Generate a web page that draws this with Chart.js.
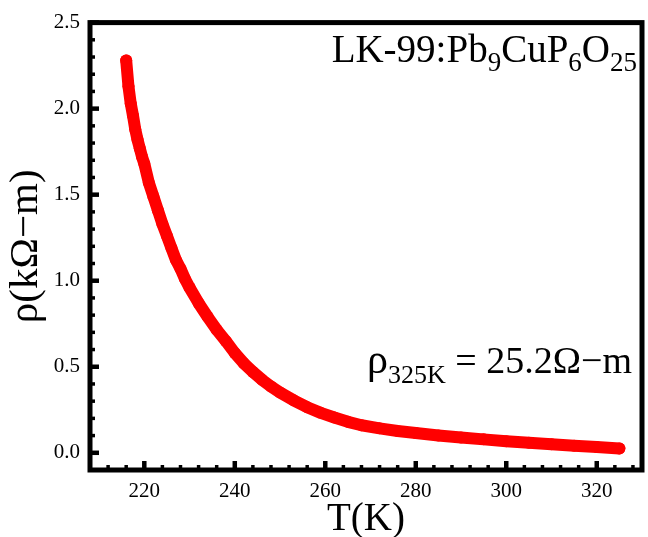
<!DOCTYPE html>
<html>
<head>
<meta charset="utf-8">
<script src="https://cdn.jsdelivr.net/npm/chart.js@4/dist/chart.umd.min.js"></script>
<style>
  html, body { margin: 0; padding: 0; background: #fff; }
</style>
</head>
<body>
<canvas id="myChart" width="648" height="537"></canvas>
<script>
// temperature (K) and resistivity (kOhm-m)
var temps = [216, 216.5, 217, 217.5, 218, 218.5, 219, 219.5, 220, 221, 222, 223, 224, 225, 226, 227, 228, 229, 230,
             232, 234, 236, 238, 240, 242, 244, 246, 248, 250, 253, 256, 259, 262, 265, 268, 272, 276, 280,
             285, 290, 295, 300, 305, 310, 315, 320, 325];
var rho = [2.28, 2.13, 2.03, 1.96, 1.88, 1.82, 1.77, 1.72, 1.68, 1.57, 1.49, 1.41, 1.33, 1.26, 1.19, 1.12, 1.07, 1.01, 0.96,
           0.87, 0.79, 0.715, 0.65, 0.58, 0.52, 0.47, 0.425, 0.385, 0.35, 0.305, 0.265, 0.232, 0.205, 0.18, 0.16, 0.142, 0.127, 0.115,
           0.101, 0.089, 0.078, 0.067, 0.058, 0.049, 0.041, 0.034, 0.0252];

var xRange = [208, 330];
var yRange = [-0.1, 2.5];
var xStep = 20, xMinorStep = 4;
var yStep = 0.5, yMinorStep = 0.1;

var serif = "'Liberation Serif', 'Times New Roman', serif";

// draws a run of text pieces (with sub-scripts) ending at x = right
function drawParts(ctx, parts, right, baseline) {
    var total = 0;
    parts.forEach(function (p) {
        ctx.font = p.font;
        p.w = ctx.measureText(p.text).width;
        total += p.w;
    });
    var x = right - total;
    parts.forEach(function (p) {
        ctx.font = p.font;
        ctx.fillText(p.text, x, baseline + (p.dy || 0));
        x += p.w;
    });
}

var framePlugin = {
    id: 'frame',
    afterDraw: function (chart) {
        var ctx = chart.ctx, a = chart.chartArea;
        var xs = chart.scales.x, ys = chart.scales.y;
        ctx.save();
        ctx.strokeStyle = '#000';
        ctx.fillStyle = '#000';

        // inward ticks on left and bottom
        ctx.lineCap = 'butt';
        for (var i = Math.ceil(xRange[0] / xMinorStep); i * xMinorStep <= xRange[1]; i++) {
            var v = i * xMinorStep;
            var major = v % xStep === 0;
            var px = xs.getPixelForValue(v);
            ctx.lineWidth = major ? 4.5 : 3.5;
            ctx.beginPath();
            ctx.moveTo(px, a.bottom);
            ctx.lineTo(px, a.bottom - (major ? 9 : 5));
            ctx.stroke();
        }
        for (var j = Math.round(yRange[0] / yMinorStep); j * yMinorStep <= yRange[1] + 1e-9; j++) {
            var major2 = j % 5 === 0;
            var py = ys.getPixelForValue(j * yMinorStep);
            ctx.lineWidth = major2 ? 4.5 : 3.5;
            ctx.beginPath();
            ctx.moveTo(a.left, py);
            ctx.lineTo(a.left + (major2 ? 9 : 5), py);
            ctx.stroke();
        }

        // box
        ctx.lineWidth = 5;
        ctx.lineJoin = 'miter';
        ctx.strokeRect(a.left, a.top, a.right - a.left, a.bottom - a.top);

        // annotations
        ctx.textBaseline = 'alphabetic';
        var big = '39px ' + serif, small = '27px ' + serif;
        drawParts(ctx, [
            { text: 'LK-99:Pb', font: big },
            { text: '9', font: small, dy: 9 },
            { text: 'CuP', font: big },
            { text: '6', font: small, dy: 9 },
            { text: 'O', font: big },
            { text: '25', font: small, dy: 9 }
        ], 637, 62);
        drawParts(ctx, [
            { text: '\u03C1', font: '42px ' + serif },
            { text: '325K', font: '26px ' + serif, dy: 10 },
            { text: ' = 25.2\u03A9\u2212m', font: '38px ' + serif }
        ], 632, 373);
        ctx.restore();
    }
};

var ctx = document.getElementById('myChart').getContext('2d');
var chart = new Chart(ctx, {
    type: 'scatter',
    data: {
        datasets: [{
            data: temps.map(function (t, i) { return { x: t, y: rho[i] }; }),
            showLine: true,
            borderColor: '#ff0000',
            borderWidth: 12,
            borderCapStyle: 'round',
            borderJoinStyle: 'round',
            backgroundColor: '#ff0000',
            pointRadius: 6,
            pointBorderWidth: 0
        }]
    },
    options: {
        responsive: false,
        animation: false,
        devicePixelRatio: 1,
        layout: { padding: { top: 22, right: 3, left: 0, bottom: 0 } },
        plugins: { legend: { display: false }, tooltip: { enabled: false } },
        scales: {
            x: {
                type: 'linear',
                min: xRange[0], max: xRange[1],
                grid: { display: false, drawTicks: false },
                border: { display: false },
                ticks: { stepSize: xStep, includeBounds: false, padding: 9, color: '#000', font: { family: serif, size: 21 } },
                title: { display: true, text: 'T(K)', color: '#000', padding: 0, font: { family: serif, size: 39, lineHeight: 0.9 } },
                afterFit: function (s) { s.height = 67; }
            },
            y: {
                type: 'linear',
                min: yRange[0], max: yRange[1],
                grid: { display: false, drawTicks: false },
                border: { display: false },
                ticks: { stepSize: yStep, includeBounds: false, padding: 10, color: '#000', font: { family: serif, size: 21 },
                         callback: function (v) { return v.toFixed(1); } },
                title: { display: true, text: '\u03C1(k\u03A9\u2212m)', color: '#000', padding: { top: 2, bottom: 0 }, font: { family: serif, size: 41, lineHeight: 1.2 } },
                afterFit: function (s) { s.width = 90; }
            }
        }
    },
    plugins: [framePlugin]
});
</script>
</body>
</html>
